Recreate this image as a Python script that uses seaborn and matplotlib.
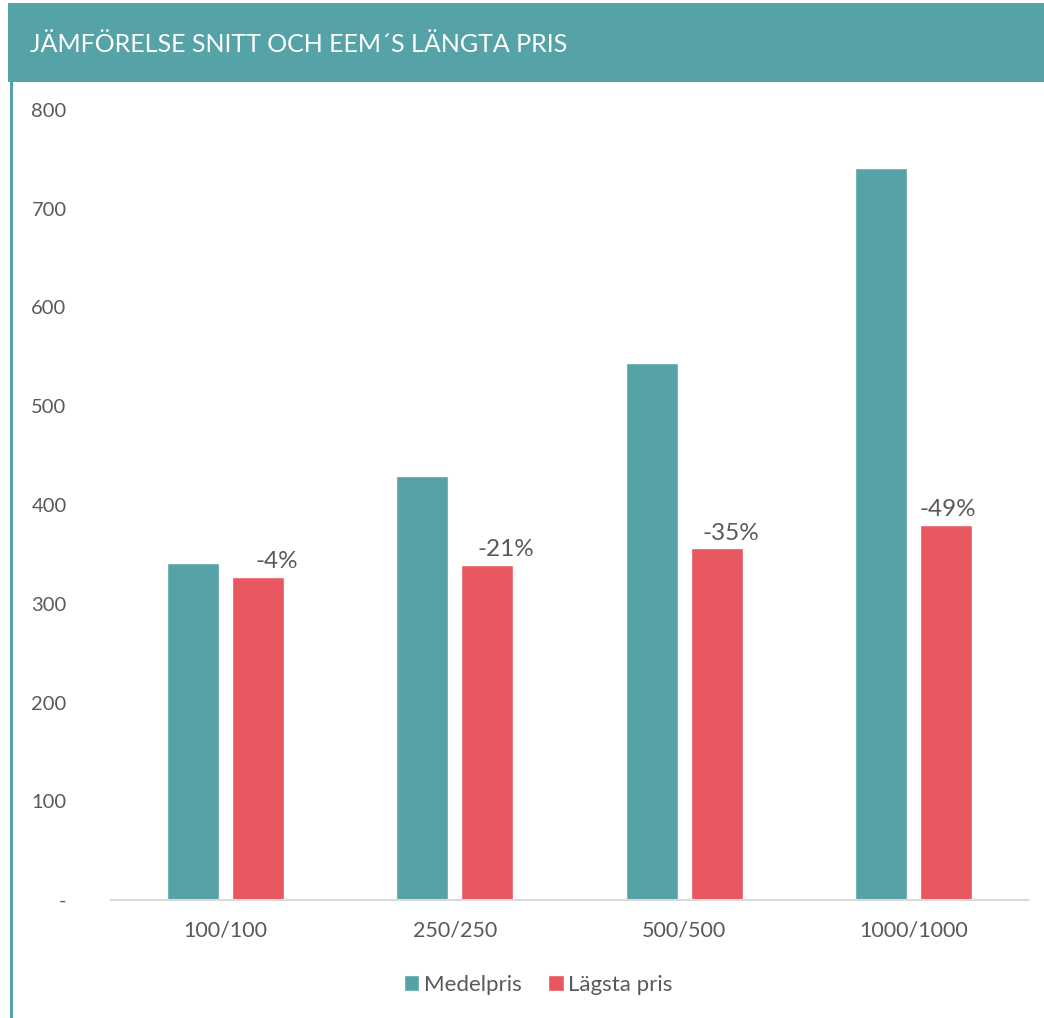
import pandas as pd
import matplotlib.pyplot as plt
import seaborn as sns
from matplotlib.patches import Rectangle

# data
categories = ["100/100", "250/250", "500/500", "1000/1000"]
medelpris = [341, 429, 544, 741]
lagsta_pris = [327, 339, 356, 380]
diff_labels = ["-4%", "-21%", "-35%", "-49%"]
y_ticks = [0, 100, 200, 300, 400, 500, 600, 700, 800]
y_tick_labels = ["-", "100", "200", "300", "400", "500", "600", "700", "800"]

df = pd.DataFrame({
    "Kategori": categories * 2,
    "Pris": medelpris + lagsta_pris,
    "Serie": ["Medelpris"] * len(categories) + ["Lägsta pris"] * len(categories),
})

teal = "#55A3A7"
red = "#E85660"
grey = "#595959"

sns.set_theme(style="white")
plt.rcParams["font.family"] = ["Lato", "DejaVu Sans"]

fig = plt.figure(figsize=(10.44, 10.18), dpi=100, facecolor="white")
ax = fig.add_axes([111 / 1044, 1 - 900 / 1018, 917 / 1044, 790 / 1018])

sns.barplot(data=df, x="Kategori", y="Pris", hue="Serie", palette=[teal, red],
            width=0.567, gap=0.2, saturation=1, ax=ax, legend=False)

ax.set_xlim(-0.5, 3.5)
ax.set_ylim(0, 800)
ax.set_xlabel("")
ax.set_ylabel("")
ax.set_yticks(y_ticks)
ax.set_yticklabels(y_tick_labels)
ax.tick_params(axis="y", length=0, pad=32, labelsize=14.5, labelcolor=grey)
ax.tick_params(axis="x", length=0, pad=15, labelsize=15.5, labelcolor=grey)
for s in ["top", "right", "left"]:
    ax.spines[s].set_visible(False)
ax.spines["bottom"].set_color("#D9D9D9")
ax.spines["bottom"].set_linewidth(1.5)

# percentage labels above the red bars (manual nudges as in original)
label_dx = [0.08, 0.08, 0.06, 0.01]
red_bars = ax.containers[1]
for bar, txt, dx in zip(red_bars, diff_labels, label_dx):
    ax.text(bar.get_x() + bar.get_width() / 2 + dx, bar.get_height() + 5, txt,
            ha="center", va="bottom", fontsize=17.5, color=grey)

# title banner and left accent line
fig.patches.append(Rectangle((8 / 1044, 1 - 82 / 1018), 1 - 8 / 1044, 79 / 1018,
                             transform=fig.transFigure, facecolor=teal, edgecolor="none", zorder=0))
fig.patches.append(Rectangle((10 / 1044, 0), 3 / 1044, 1 - 82 / 1018,
                             transform=fig.transFigure, facecolor=teal, edgecolor="none", zorder=0))
fig.text(30 / 1044, 1 - 45 / 1018, "JÄMFÖRELSE SNITT OCH EEM´S LÄNGTA PRIS",
         ha="left", va="center", fontsize=18, color="white")

# legend
handles = [Rectangle((0, 0), 1, 1, fc=teal), Rectangle((0, 0), 1, 1, fc=red)]
fig.legend(handles, ["Medelpris", "Lägsta pris"], loc="center",
           bbox_to_anchor=(538 / 1044, 1 - 985 / 1018), ncol=2, frameon=False,
           fontsize=16, handlelength=0.7, handleheight=0.7, handletextpad=0.2,
           columnspacing=1.2, labelcolor=grey)

plt.savefig("out.png", dpi=100, facecolor=fig.get_facecolor())
